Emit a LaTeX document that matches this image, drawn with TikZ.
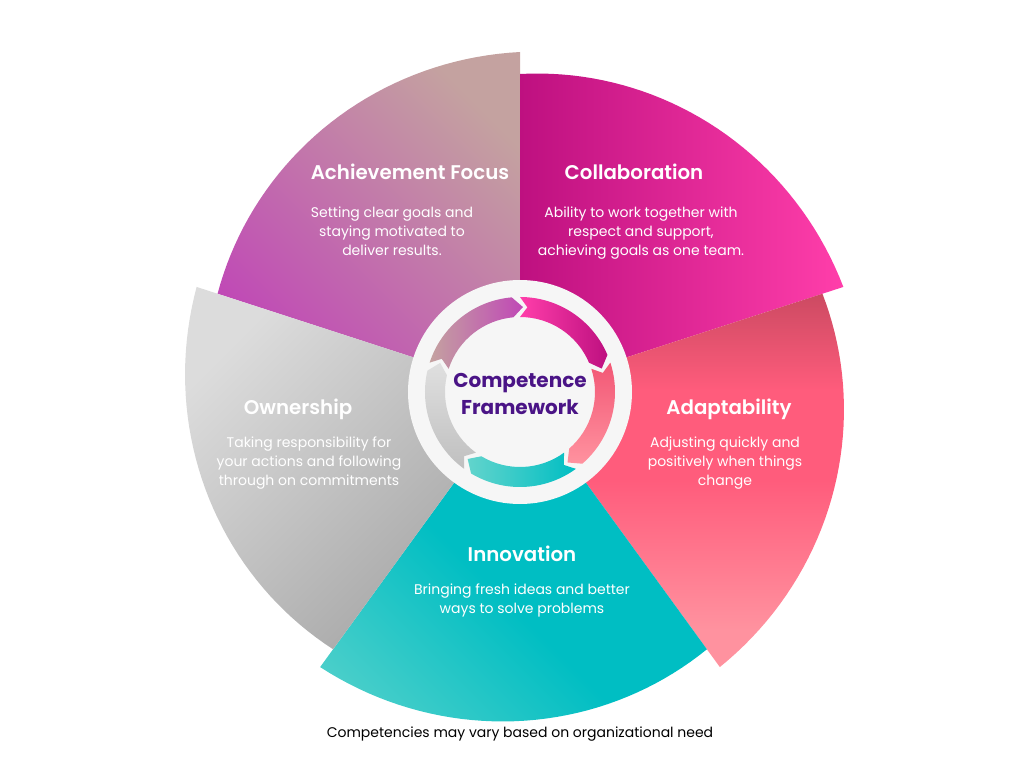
\documentclass[tikz,border=0pt]{standalone}
\usepackage{fontspec}
\setmainfont{Poppins}
\newfontfamily\semibold{Poppins SemiBold}
\usetikzlibrary{positioning}
\definecolor{achA}{HTML}{C4A2A0}
\definecolor{achB}{HTML}{C048B6}
\definecolor{colA}{HTML}{BE1080}
\definecolor{colB}{HTML}{FF3EAA}
\definecolor{adaA}{HTML}{CC4A62}
\definecolor{adaM}{HTML}{FF5C7C}
\definecolor{adaB}{HTML}{FF929F}
\definecolor{innA}{HTML}{62D4CC}
\definecolor{innB}{HTML}{00BEC3}
\definecolor{innC}{HTML}{00B2BA}
\definecolor{ownA}{HTML}{DCDCDC}
\definecolor{ownB}{HTML}{A4A4A4}
\definecolor{disc}{HTML}{F6F6F6}
\definecolor{ink}{HTML}{4A1486}
\pgfdeclareverticalshading{innshade}{100bp}{color(0bp)=(innC); color(35bp)=(innB); color(55bp)=(innB); color(88bp)=(innA); color(100bp)=(innA)}
\pgfdeclareverticalshading{adashade}{100bp}{color(0bp)=(adaB); color(30bp)=(adaB); color(50bp)=(adaM); color(62bp)=(adaM); color(75bp)=(adaA); color(100bp)=(adaA)}
\tikzset{
  petal/.style = {insert path={(0,0) -- plot[domain=#1:#1-72, samples=40, variable=\t] (\t:{318+22*(#1-\t)/72}) -- cycle}},
  cyc/.style   = {insert path={(#1:95) arc[start angle=#1, end angle=#1-67, radius=95pt] -- (#1-74:85)
                  -- (#1-67:75) arc[start angle=#1-67, end angle=#1, radius=75pt] -- (#1-5:85) -- cycle}},
  ttl/.style   = {text=white, inner sep=0pt, text height=14pt, text depth=4pt, anchor=base,
                  font=\semibold\fontsize{19.8}{24}\selectfont},
  desc/.style  = {text=white, inner sep=0pt, align=center, font=\fontsize{14}{19}\selectfont},
}

\begin{document}
\begin{tikzpicture}[x=1pt, y=1pt]
    \useasboundingbox (-520,-376) rectangle (504,392);

    % wheel
    \shade[petal=162, top color=achA, bottom color=achB, shading angle=-45];
    \shade[petal=90, left color=colA, right color=colB];
    \shade[petal=18, shading=adashade];
    \shade[petal=-54, shading=innshade, shading angle=135];
    \shade[petal=-126, top color=ownA, bottom color=ownB, shading angle=45];

    % hub
    \fill[disc] (0,0) circle[radius=112pt];
    \shade[cyc=162, left color=achA, right color=achB];
    \shade[cyc=90, left color=colB, right color=colA];
    \shade[cyc=18, top color=adaM!75!adaA, bottom color=adaB];
    \shade[cyc=-54, left color=innA, right color=innB];
    \shade[cyc=-126, top color=ownA!90, bottom color=ownB!70];
    \node[inner sep=0pt, align=center, text=ink, font=\bfseries\fontsize{20}{27}\selectfont] (core) at (0,-1.5) {Competence\\Framework};

    \node[ttl] (ach) at (-110,212.5) {Achievement Focus};
    \node[desc, below=23pt of ach, xshift=-18pt] (achd) {Setting clear goals and\\staying motivated to\\deliver results.};
    \node[ttl] (col) at (114,212.5) {Collaboration};
    \node[desc, below=23pt of col, xshift=7pt] (cold) {Ability to work together with\\respect and support,\\achieving goals as one team.};
    \node[ttl] (ada) at (209,-22.5) {Adaptability};
    \node[desc, below=18pt of ada, xshift=-4pt] (adad) {Adjusting quickly and\\positively when things\\change};
    \node[ttl] (inn) at (2,-169.5) {Innovation};
    \node[desc, below=18pt of inn] (innd) {Bringing fresh ideas and better\\ways to solve problems};
    \node[ttl] (own) at (-222,-22.5) {Ownership};
    \node[desc, below=18pt of own, xshift=11pt] (ownd) {Taking responsibility for\\your actions and following\\through on commitments};

    \node[font=\fontsize{14}{16}\selectfont] (note) at (0,-342) {Competencies may vary based on organizational need};
\end{tikzpicture}
\end{document}
